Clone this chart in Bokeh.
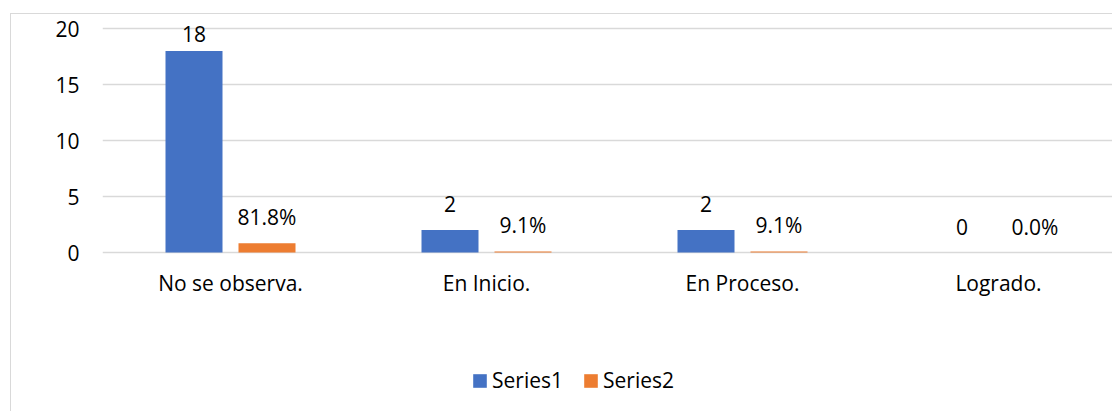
from bokeh.plotting import figure
from bokeh.models import Range1d, FixedTicker, ColumnDataSource, Legend, LegendItem, LabelSet
from bokeh.core.properties import value
from bokeh.embed import file_html
from bokeh.resources import INLINE

categories = ["No se observa.", "En Inicio.", "En Proceso.", "Logrado."]
series1 = [18, 2, 2, 0]
series2 = [0.818, 0.091, 0.091, 0.0]
series1_labels = ["18", "2", "2", "0"]
series2_labels = ["81.8%", "9.1%", "9.1%", "0.0%"]
y_ticks = [0, 5, 10, 15, 20]

FONT = "Open Sans"
FS = "21px"
BLUE = "#4472C4"
ORANGE = "#ED7D31"
GRID = "#D9D9D9"

PX_PER_CAT = 256.0
FRAME_W = 1011
PX_PER_UNIT = 11.2
Y_TOP = 20
TOP_PAD = 14           # pixels of frame above the 20 gridline
FRAME_H = 398          # frame covers the whole canvas height

xc = [i + 0.5 for i in range(len(categories))]
off = 36.5 / PX_PER_CAT
bw = 57 / PX_PER_CAT


def lab_offset(v):
    return min(26.0, (Y_TOP - v) * PX_PER_UNIT - 5)


src1 = ColumnDataSource(dict(x=[c - off for c in xc], top=series1, lab=series1_labels,
                             yo=[lab_offset(v) for v in series1]))
src2 = ColumnDataSource(dict(x=[c + off for c in xc], top=series2, lab=series2_labels,
                             yo=[lab_offset(v) for v in series2]))

y_end = Y_TOP + TOP_PAD / PX_PER_UNIT
p = figure(width=1102, height=398, output_backend="svg", toolbar_location=None,
           x_range=Range1d(0, FRAME_W / PX_PER_CAT),
           y_range=Range1d(y_end - FRAME_H / PX_PER_UNIT, y_end),
           min_border_left=91, min_border_top=0, min_border_right=0, min_border_bottom=0,
           margin=(13, 0, 0, 10))
p.styles = {"border-left": "1px solid #D9D9D9", "border-top": "1px solid #D9D9D9"}
p.outline_line_color = None
p.background_fill_color = "white"
p.border_fill_color = "white"

r1 = p.vbar(x="x", top="top", bottom=0, width=bw, source=src1, color=BLUE, line_color=None)
r2 = p.vbar(x="x", top="top", bottom=0, width=bw, source=src2, color=ORANGE, line_color=None)

for s in (src1, src2):
    ls = LabelSet(x="x", y="top", text="lab", source=s, y_offset="yo",
                  text_align="center", text_baseline="middle",
                  text_font=value(FONT), text_font_size=value(FS), text_color="#000000")
    p.add_layout(ls)

p.xaxis.fixed_location = 0
p.xaxis.ticker = FixedTicker(ticks=xc)
p.xaxis.major_label_overrides = {x: c for x, c in zip(xc, categories)}
p.xaxis.major_tick_line_color = None
p.xaxis.minor_tick_line_color = None
p.xaxis.axis_line_color = None
p.xaxis.major_label_standoff = 10
p.xaxis.major_label_text_font = FONT
p.xaxis.major_label_text_font_size = FS
p.xaxis.major_label_text_color = "#000000"

p.yaxis.ticker = FixedTicker(ticks=y_ticks)
p.yaxis.major_tick_line_color = None
p.yaxis.minor_tick_line_color = None
p.yaxis.axis_line_color = None
p.yaxis.major_label_standoff = 17
p.yaxis.major_label_text_font = FONT
p.yaxis.major_label_text_font_size = FS
p.yaxis.major_label_text_color = "#000000"

p.xgrid.grid_line_color = None
p.ygrid.ticker = FixedTicker(ticks=y_ticks)
p.ygrid.grid_line_color = GRID
p.ygrid.grid_line_width = 1.5

legend = Legend(items=[LegendItem(label="Series1", renderers=[r1]),
                       LegendItem(label="Series2", renderers=[r2])],
                location=(369, 18), orientation="horizontal",
                label_text_font=FONT, label_text_font_size=FS, label_text_color="#000000",
                glyph_width=17, glyph_height=17, label_standoff=4, spacing=19,
                padding=0, margin=0, border_line_color=None, background_fill_alpha=0,
                label_height=20)
p.add_layout(legend, "center")

open("out.html", "w").write(file_html(p, INLINE))
